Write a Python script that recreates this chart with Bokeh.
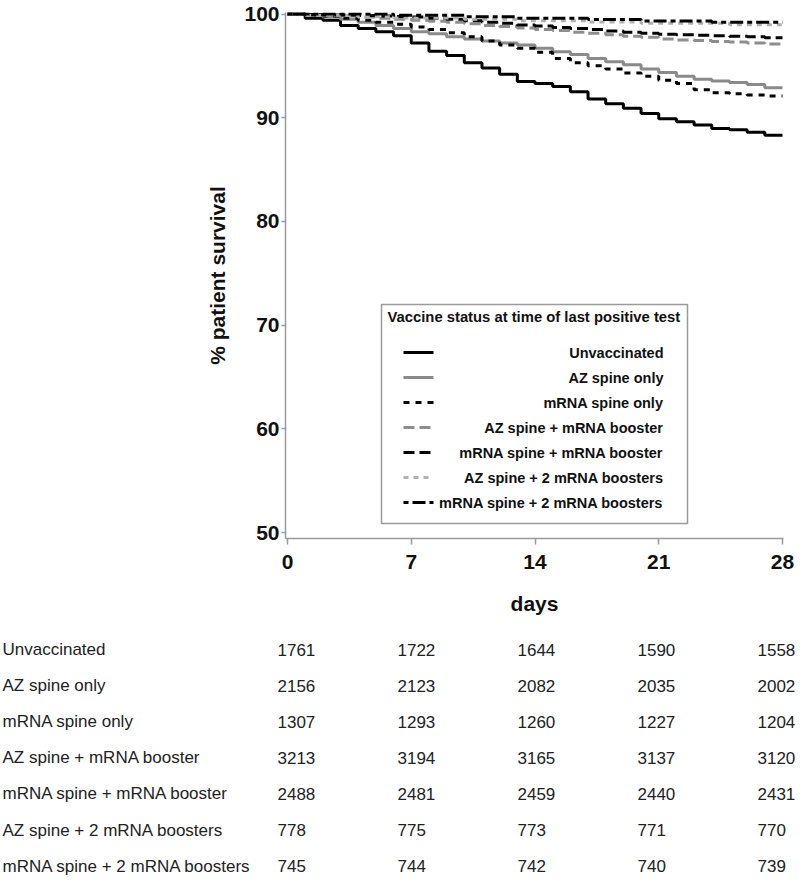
from bokeh.plotting import figure
from bokeh.models import Range1d, FixedTicker
from bokeh.layouts import column
from bokeh.embed import file_html
from bokeh.resources import INLINE
from bokeh.core.properties import value

# ---------------- data ----------------
days = list(range(29))
groups = ["Unvaccinated", "AZ spine only", "mRNA spine only",
          "AZ spine + mRNA booster", "mRNA spine + mRNA booster",
          "AZ spine + 2 mRNA boosters", "mRNA spine + 2 mRNA boosters"]

surv_unvacc = [100, 99.6, 99.4, 98.9, 98.6, 98.3, 97.9, 97.2, 96.4, 96.0, 95.3, 94.8, 94.2, 93.5,
               93.3, 93.0, 92.5, 91.8, 91.35, 90.9, 90.4, 89.9, 89.6, 89.3, 88.95, 88.85, 88.6, 88.3, 88.3]
surv_az = [100, 99.9, 99.7, 99.5, 99.2, 98.9, 98.6, 98.3, 98.1, 97.8, 97.6, 97.4, 97.2, 97.0,
           96.7, 96.35, 96.1, 95.7, 95.4, 95.1, 94.7, 94.35, 94.0, 93.7, 93.55, 93.4, 93.2, 92.9, 92.9]
surv_mrna = [100, 99.9, 99.8, 99.6, 99.4, 99.2, 99.0, 98.75, 98.5, 98.2, 97.8, 97.4, 97.0, 96.7,
             96.3, 95.7, 95.3, 95.0, 94.7, 94.3, 94.0, 93.6, 93.3, 92.7, 92.4, 92.3, 92.2, 92.1, 92.1]
surv_az_b1 = [100, 99.9, 99.85, 99.8, 99.7, 99.6, 99.5, 99.4, 99.3, 99.2, 99.05, 98.9, 98.8, 98.65,
              98.5, 98.4, 98.25, 98.15, 98.0, 97.85, 97.75, 97.6, 97.5, 97.45, 97.35, 97.3, 97.2, 97.1, 97.1]
surv_mrna_b1 = [100, 99.95, 99.9, 99.9, 99.85, 99.8, 99.75, 99.7, 99.6, 99.5, 99.35, 99.2, 99.1, 98.95,
                98.85, 98.7, 98.6, 98.5, 98.35, 98.25, 98.15, 98.05, 98.0, 97.95, 97.9, 97.85, 97.8, 97.7, 97.7]
surv_az_b2 = [100, 99.87, 99.87, 99.87, 99.74, 99.74, 99.61, 99.61, 99.61, 99.61, 99.49, 99.49, 99.49,
              99.36, 99.36, 99.36, 99.36, 99.23, 99.23, 99.23, 99.10, 99.10, 99.10, 99.10, 99.10,
              98.97, 98.97, 98.97, 98.97]
surv_mrna_b2 = [100, 100, 100, 100, 100, 100, 99.87, 99.87, 99.87, 99.87, 99.73, 99.73, 99.73,
                99.6, 99.6, 99.6, 99.6, 99.46, 99.46, 99.46, 99.33, 99.33, 99.33, 99.33,
                99.2, 99.2, 99.2, 99.2, 99.2]
series = [surv_unvacc, surv_az, surv_mrna, surv_az_b1, surv_mrna_b1, surv_az_b2, surv_mrna_b2]

risk_unvacc = [1761, 1722, 1644, 1590, 1558]
risk_az = [2156, 2123, 2082, 2035, 2002]
risk_mrna = [1307, 1293, 1260, 1227, 1204]
risk_az_b1 = [3213, 3194, 3165, 3137, 3120]
risk_mrna_b1 = [2488, 2481, 2459, 2440, 2431]
risk_az_b2 = [778, 775, 773, 771, 770]
risk_mrna_b2 = [745, 744, 742, 740, 739]
risk_table = [risk_unvacc, risk_az, risk_mrna, risk_az_b1, risk_mrna_b1, risk_az_b2, risk_mrna_b2]

x_ticks = [0, 7, 14, 21, 28]
y_ticks = [50, 60, 70, 80, 90, 100]

# ---------------- styles / layout ----------------
colors = ["#000000", "#8a8a8a", "#000000", "#8e8e8e", "#000000", "#b0b0b0", "#000000"]
dashes = ["solid", "solid", "6 6", "11 5", "11 5", "5 5", "5 4 13 4"]
FONT = value("Liberation Sans")

W = 798
FRAME_L, FRAME_R, FRAME_T, FRAME_B = 285, 783, 12, 538   # page pixels
PX_DAY = (782 - 287) / 28.0
PX_PCT = (532 - 13.5) / 50.0
X0 = 0 - (287 - FRAME_L) / PX_DAY
X1 = 28 + (FRAME_R - 782) / PX_DAY
Y1 = 100 + (13.5 - FRAME_T) / PX_PCT
Y0 = 50 - (FRAME_B - 532) / PX_PCT
H1 = 625


def dx(px):
    return X0 + (px - FRAME_L) / PX_DAY


def dy(py):
    return Y1 - (py - FRAME_T) / PX_PCT


p = figure(width=W, height=H1, x_range=Range1d(X0, X1), y_range=Range1d(Y0, Y1),
           output_backend="svg", toolbar_location=None,
           min_border_left=FRAME_L, min_border_right=W - FRAME_R,
           min_border_top=FRAME_T, min_border_bottom=H1 - FRAME_B)
p.outline_line_color = None
p.xgrid.visible = False
p.ygrid.visible = False
p.frame_align = False

for s, c, d in zip(series, colors, dashes):
    p.step(days, s, mode="after", line_color=c, line_width=3, line_dash=d)

for ax in (p.xaxis[0], p.yaxis[0]):
    ax.axis_line_color = "#9a9a9a"
    ax.axis_line_width = 1.5
    ax.major_tick_line_color = "#9a9a9a"
    ax.major_tick_line_width = 1.5
    ax.minor_tick_line_color = None
    ax.major_tick_in = 0
    ax.major_label_text_font = "Liberation Sans"
    ax.major_label_text_font_style = "bold"
    ax.major_label_text_font_size = "21px"
    ax.major_label_text_color = "#111111"
    ax.axis_label_text_font = "Liberation Sans"
    ax.axis_label_text_font_style = "bold"
    ax.axis_label_text_font_size = "21px"
    ax.axis_label_text_color = "#111111"

p.xaxis.ticker = FixedTicker(ticks=x_ticks)
p.yaxis.ticker = FixedTicker(ticks=y_ticks)
p.xaxis.axis_label = "days"
p.yaxis.axis_label = "% patient survival"
p.xaxis.major_tick_out = 6
p.yaxis.major_tick_out = 4
p.xaxis.major_label_standoff = 10
p.yaxis.major_label_standoff = 2
p.xaxis.axis_label_standoff = 20
p.yaxis.axis_label_standoff = 12

# legend (right-aligned labels as in the original)
LEG_L, LEG_R, LEG_T, LEG_B = 381, 687, 304, 523
p.quad(left=[dx(LEG_L)], right=[dx(LEG_R)], top=[dy(LEG_T)], bottom=[dy(LEG_B)],
       fill_color="white", line_color="#9a9a9a", line_width=1.5)
p.text(x=[dx(387)], y=[dy(316)], text=["Vaccine status at time of last positive test"],
       text_font=FONT, text_font_style="bold", text_font_size="14.8px",
       text_align="left", text_baseline="middle", text_color="#111111")
row_y = [dy(352 + 25 * i) for i in range(len(groups))]
for yy, c, d in zip(row_y, colors, dashes):
    p.line([dx(403), dx(433)], [yy, yy], line_color=c, line_width=3, line_dash=d)
p.text(x=[dx(663)] * len(groups), y=row_y, text=groups,
       text_font=FONT, text_font_style="bold", text_font_size="14.5px",
       text_align="right", text_baseline="middle", text_color="#111111")

# ---------------- at-risk table (own full-width frame) ----------------
TH = 878 - H1
COL_PX = 120.0
COL0_PAGE = 277
ROW_PX = 36.1
ROW0_PAGE = 649
tx0 = -COL0_PAGE / COL_PX
tx1 = tx0 + W / COL_PX
ty_top = -(ROW0_PAGE - H1) / ROW_PX
ty_bot = ty_top + TH / ROW_PX
label_x = tx0 + 2 / COL_PX

t = figure(width=W, height=TH, x_range=Range1d(tx0, tx1), y_range=Range1d(ty_bot, ty_top),
           output_backend="svg", toolbar_location=None, x_axis_type=None, y_axis_type=None,
           min_border=0)
t.outline_line_color = None
t.frame_align = False

rows = list(range(len(groups)))
t.text(x=[label_x] * len(groups), y=rows, text=groups, text_font=FONT, text_font_size="17px",
       text_align="left", text_baseline="middle", text_color="#222222")
cx, cy, ct = [], [], []
for r, vals in enumerate(risk_table):
    for c, v in enumerate(vals):
        cx.append(c)
        cy.append(r)
        ct.append(str(v))
t.text(x=cx, y=cy, text=ct, text_font=FONT, text_font_size="17px", text_align="left",
       text_baseline="middle", text_color="#222222")

layout = column(p, t, spacing=0)
open("out.html", "w").write(file_html(layout, INLINE))
